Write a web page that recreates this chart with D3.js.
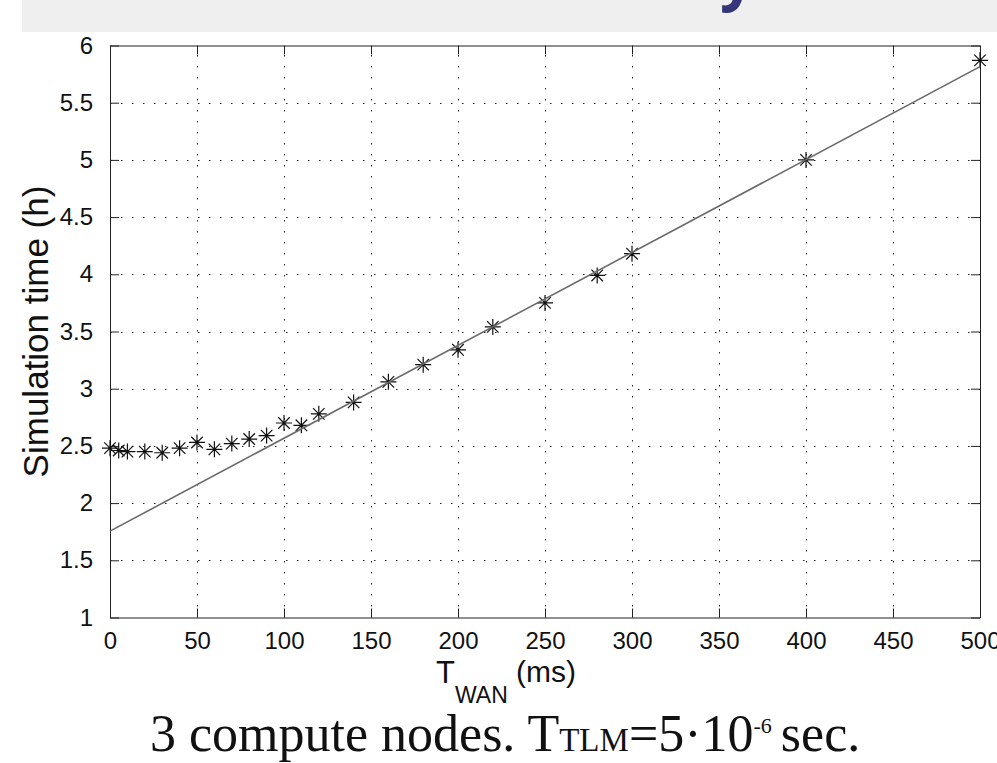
<!DOCTYPE html>
<html>
<head>
<meta charset="utf-8">
<script src="https://cdn.jsdelivr.net/npm/d3@7"></script>
<style>
  body { margin: 0; background: #fff; }
  text { font-family: "Liberation Sans", Arial, sans-serif; fill: #111; }
  text.caption { font-family: "Liberation Serif", "DejaVu Serif", serif; }
</style>
</head>
<body>
<script>
// measured points
var twan = [0, 5, 10, 20, 30, 40, 50, 60, 70, 80, 90, 100, 110, 120, 140, 160, 180, 200, 220, 250, 280, 300, 400, 500];
var simTime = [2.48, 2.46, 2.45, 2.45, 2.44, 2.48, 2.53, 2.47, 2.52, 2.56, 2.59, 2.70, 2.68, 2.78, 2.88, 3.06, 3.21, 3.34, 3.54, 3.75, 3.99, 4.18, 5.0, 5.87];

// linear fit line
var fitX = [0, 500];
var fitY = [1.755, 5.815];

var xTicks = [0, 50, 100, 150, 200, 250, 300, 350, 400, 450, 500];
var yTicks = [1, 1.5, 2, 2.5, 3, 3.5, 4, 4.5, 5, 5.5, 6];

var W = 997, H = 763;
var plot = {left: 110, right: 980, top: 45.5, bottom: 617.5};

var x = d3.scaleLinear().domain([0, 500]).range([plot.left, plot.right]);
var y = d3.scaleLinear().domain([1, 6]).range([plot.bottom, plot.top]);

var svg = d3.select("body").append("svg")
    .attr("width", W)
    .attr("height", H);

// slide title band (cut off at the top)
svg.append("rect")
    .attr("x", 22).attr("y", 0)
    .attr("width", W - 22).attr("height", 32)
    .attr("fill", "#efefef");
svg.append("text")
    .attr("x", 720).attr("y", -2)
    .style("font-family", "'Open Sans', sans-serif")
    .style("font-weight", "bold")
    .style("font-size", "62px")
    .style("fill", "#35357a")
    .text("y");

// grid
var grid = svg.append("g")
    .attr("stroke", "#222")
    .attr("stroke-width", 1)
    .attr("stroke-dasharray", "1.5,9.5");
grid.selectAll(".vg")
    .data(xTicks.slice(1, -1))
  .enter().append("line")
    .attr("x1", function(d) { return Math.round(x(d)) + 0.5; })
    .attr("x2", function(d) { return Math.round(x(d)) + 0.5; })
    .attr("y1", plot.bottom).attr("y2", plot.top);
grid.selectAll(".hg")
    .data(yTicks.slice(1, -1))
  .enter().append("line")
    .attr("y1", function(d) { return Math.round(y(d)) + 0.5; })
    .attr("y2", function(d) { return Math.round(y(d)) + 0.5; })
    .attr("x1", plot.left).attr("x2", plot.right);

// axes with inward ticks, MATLAB box style
var fmt = function(d) { return String(d); };
var xAxis = d3.axisBottom(x).tickValues(xTicks).tickSizeInner(-9).tickSizeOuter(0).tickPadding(14).tickFormat(fmt);
var xTop = d3.axisTop(x).tickValues(xTicks).tickSizeInner(-9).tickSizeOuter(0).tickFormat("");
var yAxis = d3.axisLeft(y).tickValues(yTicks).tickSizeInner(-9).tickSizeOuter(0).tickPadding(17).tickFormat(fmt);
var yRight = d3.axisRight(y).tickValues(yTicks).tickSizeInner(-9).tickSizeOuter(0).tickFormat("");

function styleAxis(g) {
  g.select(".domain").attr("stroke", "#222");
  g.selectAll(".tick line").attr("stroke", "#222");
  g.selectAll(".tick text")
      .style("font-family", "'Liberation Sans', Arial, sans-serif")
      .style("font-size", "24px")
      .attr("fill", "#1a1a1a");
}

svg.append("g").attr("transform", "translate(0," + plot.bottom + ")").call(xAxis).call(styleAxis);
svg.append("g").attr("transform", "translate(0," + plot.top + ")").call(xTop).call(styleAxis);
svg.append("g").attr("transform", "translate(" + plot.left + ",0)").call(yAxis).call(styleAxis);
svg.append("g").attr("transform", "translate(" + plot.right + ",0)").call(yRight).call(styleAxis);

// asterisk marker: plus + cross
var star = {
  draw: function(ctx, size) {
    var r = Math.sqrt(size) / 2, d = r * 0.72;
    ctx.moveTo(0, -r); ctx.lineTo(0, r);
    ctx.moveTo(-r, 0); ctx.lineTo(r, 0);
    ctx.moveTo(-d, -d); ctx.lineTo(d, d);
    ctx.moveTo(-d, d); ctx.lineTo(d, -d);
  }
};

var pts = twan.map(function(t, i) { return {t: t, v: simTime[i]}; });

svg.selectAll(".dot")
    .data(pts)
  .enter().append("path")
    .attr("class", "dot")
    .attr("d", d3.symbol().type(star).size(256))
    .attr("transform", function(d) { return "translate(" + x(d.t) + "," + y(d.v) + ")"; })
    .attr("fill", "none")
    .attr("stroke", "#111")
    .attr("stroke-width", 1.2);

var line = d3.line()
    .x(function(d) { return x(d[0]); })
    .y(function(d) { return y(d[1]); });

svg.append("path")
    .datum(fitX.map(function(v, i) { return [v, fitY[i]]; }))
    .attr("d", line)
    .attr("fill", "none")
    .attr("stroke", "#6a6a6a")
    .attr("stroke-width", 1.6);

// axis labels
var xl = svg.append("text")
    .attr("x", 436)
    .attr("y", 683)
    .style("font-size", "31px");
xl.append("tspan").text("T");
xl.append("tspan").attr("dy", 20).style("font-size", "23px").text("WAN");
xl.append("tspan").attr("dy", -21).style("font-size", "30px").text(" (ms)");

svg.append("text")
    .attr("transform", "translate(48," + ((plot.top + plot.bottom) / 2) + ") rotate(-90)")
    .style("text-anchor", "middle")
    .style("font-size", "35px")
    .text("Simulation time (h)");

// slide caption
var cap = svg.append("text")
    .attr("class", "caption")
    .attr("x", 150)
    .attr("y", 751)
    .style("font-size", "52px")
    .style("fill", "#111");
cap.append("tspan").text("3 compute nodes. T");
cap.append("tspan").style("font-size", "33px").text("TLM");
cap.append("tspan").text("=5\u00b710");
cap.append("tspan").attr("dy", -18).style("font-size", "22px").text("-6");
cap.append("tspan").attr("dy", 18).attr("dx", -4).text(" sec.");
</script>
</body>
</html>
